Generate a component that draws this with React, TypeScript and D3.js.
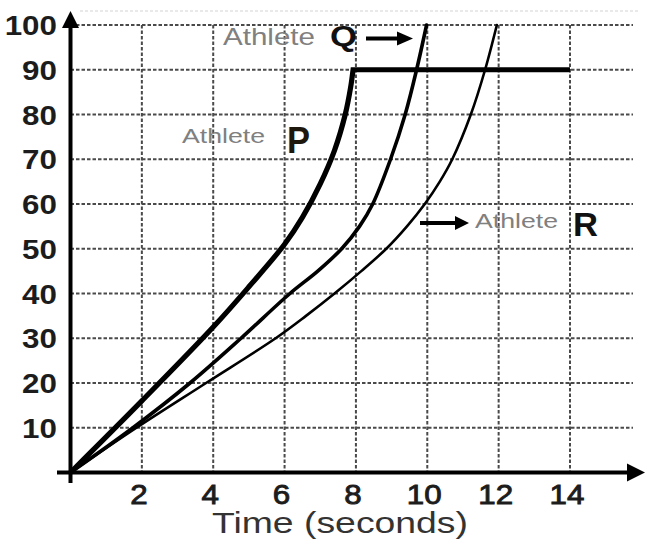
import React from 'react';
import * as d3 from 'd3';

// ---- data ----
const timeTicks = [2, 4, 6, 8, 10, 12, 14];
const distanceTicks = [10, 20, 30, 40, 50, 60, 70, 80, 90, 100];

const pTime = [0, 2, 4, 5, 6, 6.5, 7, 7.4, 7.7, 7.85, 7.92];
const pDistance = [0, 16, 32.5, 41.5, 51, 57, 64.5, 72, 80, 86, 90];
const pPlateauEnd = 14;

const qTime = [0, 1.75, 3.35, 4.78, 6.15, 6.93, 7.6, 8.1, 8.47, 8.97, 9.38, 9.7, 9.98];
const qDistance = [0, 10, 20, 30, 40, 45, 50, 55, 60, 70, 80, 90, 100];

const rTime = [0, 1.85, 3.8, 5.75, 6.6, 7.4, 8.15, 8.85, 9.43, 9.93, 10.35, 10.7, 11.22, 11.62, 11.95];
const rDistance = [0, 10, 20, 30, 35, 40, 45, 50, 55, 60, 65, 70, 80, 90, 100];

const xLabel = 'Time (seconds)';
const athleteWord = 'Athlete';

const FONT = '"Liberation Sans", Arial, sans-serif';

export default function App() {
  const W = 645;
  const H = 543;
  const x = d3.scaleLinear().domain([0, 14]).range([70.5, 570]);
  const y = d3.scaleLinear().domain([0, 100]).range([472.5, 25]);

  const pts = (t: number[], d: number[]) => t.map((v, i) => [v, d[i]] as [number, number]);
  const line = d3
    .line<[number, number]>()
    .x((d) => x(d[0]))
    .y((d) => y(d[1]))
    .curve(d3.curveCatmullRom.alpha(0.5));

  const pLast = pDistance[pDistance.length - 1];
  const pPath = (line(pts(pTime, pDistance)) || '') + `L${x(pPlateauEnd)},${y(pLast)}`;
  const qPath = line(pts(qTime, qDistance)) || '';
  const rPath = line(pts(rTime, rDistance)) || '';

  const gridColor = '#4a4a4a';
  const sx = 1.12;

  const Stretch = ({ tx, ty, children }: { tx: number; ty: number; children: React.ReactNode }) => (
    <g transform={`translate(${tx},${ty}) scale(${sx},1)`}>{children}</g>
  );

  return (
    <svg
      width={W}
      height={H}
      viewBox={`0 0 ${W} ${H}`}
      style={{ position: 'absolute', left: 0, top: 0, background: '#fff' }}
      fontFamily={FONT}
    >
      <rect x={0} y={0} width={W} height={H} fill="#fff" />
      {/* faint scan line above the top gridline */}
      <line x1={80} x2={640} y1={11} y2={11} stroke="#e2e2e2" strokeWidth={1.5} strokeDasharray="3 2" />

      {/* horizontal gridlines */}
      {distanceTicks.map((v) => (
        <line
          key={'h' + v}
          x1={x(0)}
          x2={633}
          y1={y(v)}
          y2={y(v)}
          stroke={gridColor}
          strokeWidth={2}
          strokeDasharray="3.5 2"
        />
      ))}
      {/* vertical gridlines */}
      {timeTicks.map((v) => (
        <line
          key={'v' + v}
          x1={x(v)}
          x2={x(v)}
          y1={y(100)}
          y2={y(0)}
          stroke={gridColor}
          strokeWidth={2}
          strokeDasharray="3.5 2"
        />
      ))}

      {/* axes */}
      <line x1={x(0)} x2={x(0)} y1={22} y2={483} stroke="#000" strokeWidth={4} />
      <polygon points={`${x(0)},11 ${x(0) - 8.5},28 ${x(0) + 8.5},28`} fill="#000" />
      <line x1={57} x2={632} y1={y(0)} y2={y(0)} stroke="#000" strokeWidth={4} />
      <polygon points={`645,${y(0)} 627,${y(0) - 9} 627,${y(0) + 9}`} fill="#000" />

      {/* curves */}
      <path d={rPath} fill="none" stroke="#000" strokeWidth={2.6} strokeLinecap="round" />
      <path d={qPath} fill="none" stroke="#000" strokeWidth={3.6} strokeLinecap="round" />
      <path d={pPath} fill="none" stroke="#000" strokeWidth={5.2} strokeLinejoin="miter" strokeLinecap="butt" />

      {/* y tick labels */}
      {distanceTicks.map((v) => (
        <Stretch key={'yl' + v} tx={57} ty={y(v)}>
          <text x={0} y={0} dy="0.36em" textAnchor="end" fontSize={28} fontWeight="bold" fill="#1c1c1c">
            {v}
          </text>
        </Stretch>
      ))}

      {/* x tick labels */}
      {timeTicks.map((v) => (
        <Stretch key={'xl' + v} tx={x(v) - 3} ty={504}>
          <text
            x={0}
            y={0}
            textAnchor="middle"
            fontSize={28}
            fill="#1c1c1c"
            stroke="#1c1c1c"
            strokeWidth={0.9}
          >
            {v}
          </text>
        </Stretch>
      ))}

      {/* x axis title */}
      <text
        x={212}
        y={533}
        fontSize={29}
        fill="#333"
        textLength={256}
        lengthAdjust="spacingAndGlyphs"
      >
        {xLabel}
      </text>

      {/* annotation Q */}
      <text x={223} y={45} fontSize={24} fill="#808080" textLength={92} lengthAdjust="spacingAndGlyphs">
        {athleteWord}
      </text>
      <text x={330} y={46} fontSize={29} fontWeight="bold" fill="#111" textLength={27} lengthAdjust="spacingAndGlyphs">
        Q
      </text>
      <line x1={366} x2={400} y1={38.5} y2={38.5} stroke="#000" strokeWidth={4} />
      <polygon points="413,38.5 397,31.5 397,45.5" fill="#000" />

      {/* annotation P */}
      <text x={182} y={143} fontSize={21} fill="#808080" textLength={83} lengthAdjust="spacingAndGlyphs">
        {athleteWord}
      </text>
      <text x={287} y={153} fontSize={37} fontWeight="bold" fill="#1e170c" textLength={23} lengthAdjust="spacingAndGlyphs">
        P
      </text>

      {/* annotation R */}
      <line x1={420} x2={458} y1={223} y2={223} stroke="#000" strokeWidth={4} />
      <polygon points="469,223 455,216 455,230" fill="#000" />
      <text x={475} y={228} fontSize={20} fill="#808080" textLength={83} lengthAdjust="spacingAndGlyphs">
        {athleteWord}
      </text>
      <text x={573} y={236} fontSize={34} fontWeight="bold" fill="#111" textLength={25} lengthAdjust="spacingAndGlyphs">
        R
      </text>
    </svg>
  );
}
